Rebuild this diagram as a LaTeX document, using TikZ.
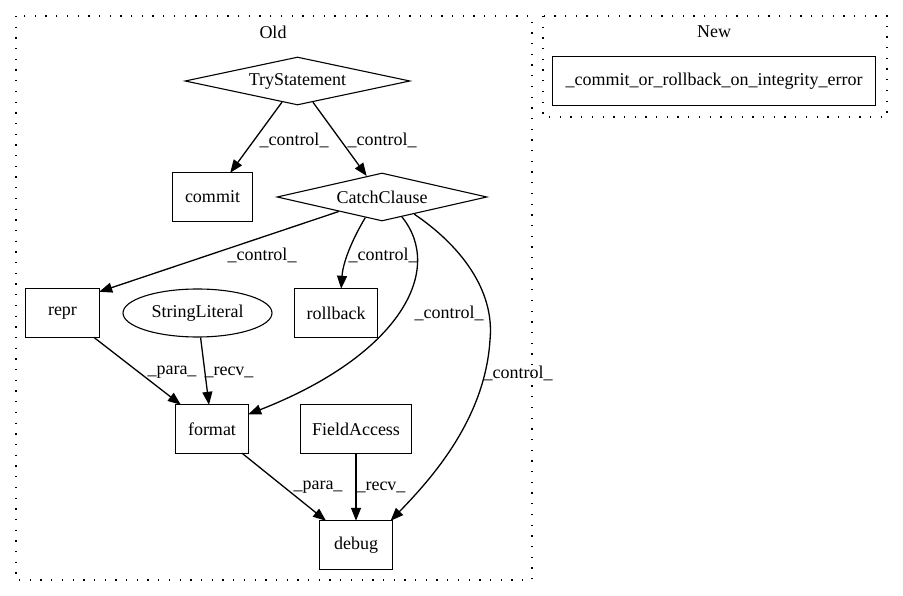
\documentclass[tikz,border=0pt]{standalone}
\usepackage{fontspec}
\setmainfont{Liberation Serif}
\usetikzlibrary{shapes.geometric,arrows.meta}

\begin{document}
\begin{tikzpicture}[x=1pt,y=-1pt,
  every node/.style={font=\fontsize{18}{21}\selectfont},
  opbox/.style={rectangle,minimum height=48pt,inner sep=0pt},
  cond/.style={draw,diamond,line width=1.1pt,inner sep=0pt,aspect=4.4,minimum height=48pt},
  lit/.style={draw,ellipse,line width=1.1pt,inner sep=0pt,minimum height=48pt},
  lab/.style={inner sep=0pt},
  frame/.style={line width=1.1pt},
  edge/.style={line width=1.3pt,-{Triangle[length=13pt,width=10pt]}},
  cluster/.style={line width=1.3pt,dash pattern=on 1.3pt off 9.4pt}]
\useasboundingbox (0,0) rectangle (903,596);

% clusters
\draw[cluster] (16,16) rectangle (532,580);
\draw[cluster] (543,16) rectangle (887,117);
\node (old) at (273,32) {Old};
\node (new) at (714,32) {New};

% old
\node[cond,minimum width=225pt] (try) at (297.5,81) {TryStatement};
\node[opbox,minimum width=79pt] (commit) at (212.5,197) {commit};
\node[cond,minimum width=210pt] (cc) at (382,197) {CatchClause};
\node[opbox,minimum width=73pt] (repr) at (62.5,313) {repr};
\node[lit,minimum width=149pt] (sl) at (197.5,313) {StringLiteral};
\node[opbox,minimum width=82pt] (rollback) at (336,313) {rollback};
\node[opbox,minimum width=72pt] (format) at (212,429) {format};
\node[opbox,minimum width=110pt] (fa) at (356,429) {FieldAccess};
\node[opbox,minimum width=72pt] (debug) at (356,545) {debug};

% new
\node[opbox,minimum width=322pt] (cor) at (714,81) {\_commit\_or\_rollback\_on\_integrity\_error};

\foreach \n in {commit,repr,rollback,format,fa,debug,cor}
  \draw[frame] (\n.north west) rectangle (\n.south east);

\draw[edge] (try) -- (commit);
\draw[edge] (try) -- (cc);
\draw[edge] (cc) -- (repr.30);
\draw[edge] (cc.-129) .. controls (352,240) and (343,262) .. (rollback.78);
\draw[edge] (cc.-45) .. controls (445,270) and (400,355) .. (format.22);
\draw[edge] (cc.-28) .. controls (460,245) and (495,290) .. (490,340)
  .. controls (485,420) and (430,480) .. (debug.35);
\draw[edge] (repr) -- (format);
\draw[edge] (sl) -- (format);
\draw[edge] (format) -- (debug);
\draw[edge] (fa) -- (debug);

\node[lab] (l1) at (294,140) {\_control\_};
\node[lab] (l2) at (382,140) {\_control\_};
\node[lab] (l3) at (262,255) {\_control\_};
\node[lab] (l4) at (383,255) {\_control\_};
\node[lab] (l5) at (449,313) {\_control\_};
\node[lab] (l6) at (518,373) {\_control\_};
\node[lab] (l7) at (172,372) {\_para\_};
\node[lab] (l8) at (229,372) {\_recv\_};
\node[lab] (l9) at (318,487) {\_para\_};
\node[lab] (l10) at (381,487) {\_recv\_};

\end{tikzpicture}
\end{document}
